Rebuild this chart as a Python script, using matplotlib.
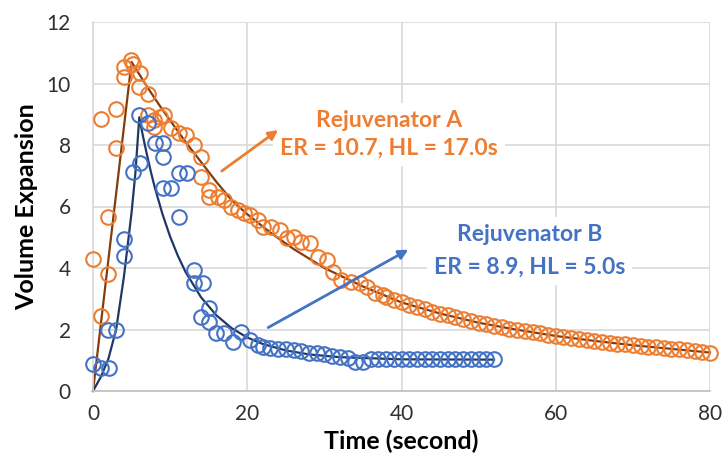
import numpy as np
import matplotlib
matplotlib.use("Agg")
import matplotlib.pyplot as plt

plt.rcParams['font.family'] = ['Lato', 'DejaVu Sans']

# Rejuvenator A, measured points (time s, volume expansion)
a_time = [0.04, 1.04, 1.04, 2.0, 2.0, 3.0, 3.0, 4.07, 4.07, 4.9, 5.2, 6.1, 6.0, 7.1,
          7.1, 7.96, 7.96, 8.7, 9.2, 10.1, 11.2, 12.1, 13.1, 14.0, 14.0, 15.0, 15.1,
          16.2, 17.05, 17.9, 18.8, 19.6, 20.3, 21.4, 22.0, 23.1, 24.2, 25.1, 26.1, 27.0,
          28.1, 29.2, 30.3, 31.1, 32.2, 33.5, 34.6, 35.5, 36.5, 37.6,
          38, 39, 40, 41, 42, 43, 44, 45, 46, 47, 48, 49, 50, 51, 52, 53, 54, 55, 56,
          57, 58, 59, 60, 61, 62, 63, 64, 65, 66, 67, 68, 69, 70, 71, 72, 73, 74, 75,
          76, 77, 78, 79, 80]
a_vol = [4.28, 8.85, 2.45, 5.67, 3.80, 9.16, 7.89, 10.22, 10.55, 10.76, 10.65, 10.35, 9.87, 9.66,
         8.98, 8.81, 8.60, 8.92, 8.98, 8.54, 8.38, 8.33, 8.0, 7.62, 6.97, 6.54, 6.32,
         6.32, 6.21, 5.99, 5.89, 5.78, 5.72, 5.56, 5.34, 5.34, 5.24, 4.97, 5.02, 4.86,
         4.80, 4.37, 4.26, 3.88, 3.61, 3.55, 3.50, 3.39, 3.18, 3.12,
         3.05, 2.95, 2.88, 2.80, 2.74, 2.66, 2.58, 2.52, 2.46, 2.40, 2.34, 2.28, 2.22, 2.17,
         2.12, 2.08, 2.03, 1.99, 1.95, 1.91, 1.87, 1.83, 1.79, 1.76, 1.72, 1.69, 1.66, 1.63,
         1.60, 1.57, 1.54, 1.52, 1.49, 1.46, 1.44, 1.42, 1.39, 1.37, 1.35, 1.33, 1.30, 1.28, 1.25]

# Rejuvenator B, measured points
b_time = [0, 1, 2.1, 1.9, 3, 4.07, 4.07, 5.15, 6.1, 6.0, 7.1, 8.0, 9.05, 9.05, 9.05, 10.1,
          11.2, 12.2, 11.1, 13.07, 13.07, 14.2, 15.1, 14.0, 15.1, 16.0, 17.05, 18.1, 19.2,
          20.3, 21.4, 22, 23, 24, 25, 26, 27, 28, 29, 30, 31, 32, 33, 34, 35, 36, 37, 38,
          39, 40, 41, 42, 43, 44, 45, 46, 47, 48, 49, 50, 51, 52]
b_vol = [0.88, 0.74, 0.74, 1.98, 1.98, 4.94, 4.39, 7.13, 7.40, 8.98, 8.70, 8.05, 8.05, 7.62, 6.59, 6.59,
         7.10, 7.10, 5.67, 3.93, 3.50, 3.50, 2.69, 2.42, 2.25, 1.87, 1.87, 1.60, 1.93,
         1.66, 1.50, 1.44, 1.40, 1.38, 1.35, 1.33, 1.30, 1.25, 1.22, 1.20, 1.15, 1.12, 1.08, 0.95,
         0.93, 1.03, 1.04, 1.04, 1.04, 1.04, 1.04, 1.04, 1.04, 1.04, 1.04, 1.04, 1.04, 1.04,
         1.04, 1.04, 1.04, 1.04]

# fitted model curves
a_fit_t = [0, 5, 6, 7, 8, 9, 10, 11, 12, 14, 16, 18, 20, 23, 26, 30, 35, 40, 45, 50, 55,
           60, 65, 70, 75, 80]
a_fit_y = [0, 10.7, 10.3, 9.9, 9.52, 9.15, 8.8, 8.45, 8.1, 7.45, 6.8, 6.2, 5.75, 5.15, 4.62,
           4.0, 3.4, 2.88, 2.52, 2.22, 1.99, 1.79, 1.63, 1.49, 1.37, 1.25]
b_fit_t = [0, 1, 2, 3, 4, 5, 5.5, 6, 6.5, 7, 7.5, 8, 9, 10, 11, 12, 14, 16, 18, 20, 22, 25,
           28, 32, 40, 52]
b_fit_y = [0, 0.45, 1.05, 2.0, 3.7, 5.8, 7.1, 8.9, 8.26, 7.68, 7.13, 6.63, 5.76, 5.02, 4.40,
           3.87, 3.05, 2.46, 2.04, 1.74, 1.53, 1.32, 1.19, 1.10, 1.03, 1.02]

orange = '#ED7D31'
blue = '#4472C4'

fig = plt.figure(figsize=(7.22, 4.66), dpi=100)
ax = fig.add_axes([93/722, 1 - 391/466, 617/722, 369/466])

ax.plot(a_fit_t, a_fit_y, color='#843C0C', lw=1.6, zorder=2, clip_on=False)
ax.plot(b_fit_t, b_fit_y, color='#203864', lw=1.6, zorder=2, clip_on=False)
ax.plot(a_time, a_vol, 'o', ms=10.5, mfc='none', mec=orange, mew=1.5, zorder=3, clip_on=False)
ax.plot(b_time, b_vol, 'o', ms=10.5, mfc='none', mec=blue, mew=1.5, zorder=3, clip_on=False)

ax.set_xlim(0, 80)
ax.set_ylim(0, 12)
ax.set_xticks([0, 20, 40, 60, 80])
ax.set_yticks(range(0, 13, 2))
ax.grid(True, color='#D9D9D9', lw=1.2, zorder=0)
ax.set_axisbelow(True)
for s in ['top', 'right']:
    ax.spines[s].set_visible(False)
ax.spines['left'].set_color('#D9D9D9')
ax.spines['bottom'].set_color('#BFBFBF')
ax.spines['left'].set_linewidth(1.2)
ax.spines['bottom'].set_linewidth(1.2)
ax.tick_params(length=0, labelsize=15, labelcolor='#303030')
ax.tick_params(axis='y', pad=16)
ax.tick_params(axis='x', pad=9)
ax.set_xlabel('Time (second)', fontsize=18, fontweight='bold', labelpad=4)
ax.set_ylabel('Volume Expansion', fontsize=18, fontweight='bold', labelpad=6)

box = dict(boxstyle='square,pad=0.3', fc='white', ec='none')
ax.text(38.4, 8.35, 'Rejuvenator A\nER = 10.7, HL = 17.0s', color=orange, fontsize=16.5,
        fontweight='bold', ha='center', va='center', linespacing=1.4, bbox=box, zorder=4)
ax.text(56.6, 4.55, 'Rejuvenator B\nER = 8.9, HL = 5.0s', color=blue, fontsize=16.5,
        fontweight='bold', ha='center', va='center', linespacing=1.7, bbox=box, zorder=4)

ax.annotate('', xy=(24.3, 8.54), xytext=(16.4, 7.10),
            arrowprops=dict(arrowstyle='-|>', color=orange, lw=2, mutation_scale=14), zorder=5)
ax.annotate('', xy=(41.2, 4.64), xytext=(22.4, 2.02),
            arrowprops=dict(arrowstyle='-|>', color=blue, lw=2, mutation_scale=14), zorder=5)

fig.savefig('out.png', dpi=100)
